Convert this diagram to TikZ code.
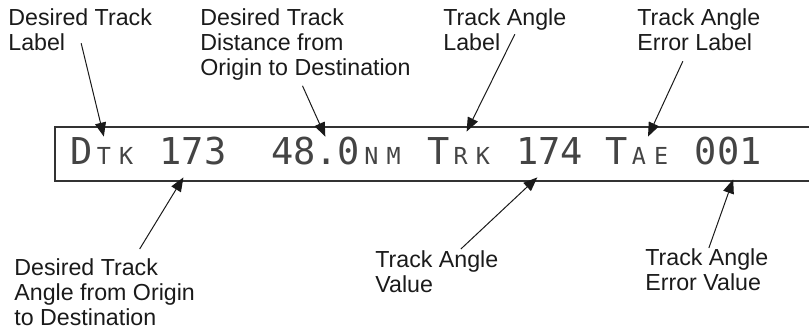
\documentclass[tikz,border=0pt]{standalone}
\usepackage{fontspec}
\setmainfont{Liberation Sans}
\newfontfamily\dotfont{DejaVu Sans Mono}
\usetikzlibrary{arrows.meta,positioning}
\definecolor{frameline}{HTML}{333333}
\definecolor{dotink}{HTML}{444444}
\definecolor{callout}{HTML}{1A1A1A}
% small letter kept in one character cell of the readout
\newcommand\lowch[1]{\hbox to \fontcharwd\font`0{\hss\fontsize{11.7}{12}\selectfont#1\hss}}

\begin{document}
\begin{tikzpicture}[x=.5pt,y=-.5pt,
caption/.style={align=left,inner sep=0pt,anchor=north west,text=callout,font=\fontsize{11.6}{12.5}\selectfont},
field/.style={inner sep=0pt,anchor=base west,text height=14pt,text depth=6pt,text=dotink,font=\dotfont\fontsize{18.5}{20}\selectfont},
window/.style={draw=frameline,line width=.75pt},
pointer/.style={-{Triangle[length=7pt,width=5.5pt]},line width=.5pt,draw=callout}]
\useasboundingbox (0,0) rectangle (809,331);
% display window, open at the right
\draw[window] (809,127) -| (55,181) -- (809,181);
% readout
\node[field] (dtk) at (70,165) {D\lowch{T}\lowch{K}};
\node[field] (dtkval) at (159.2,165) {173};
\node[field] (dist) at (270.7,165) {48.0\lowch{N}\lowch{M}};
\node[field] (trk) at (426.8,165) {T\lowch{R}\lowch{K}};
\node[field] (trkval) at (516,165) {174};
\node[field] (tae) at (605.2,165) {T\lowch{A}\lowch{E}};
\node[field] (taeval) at (694.4,165) {001};
% callouts above
\node[caption] (dtklbl) at (8,8.4) {Desired Track\\Label};
\node[caption] (distlbl) at (200,8.4) {Desired Track\\Distance from\\Origin to Destination};
\node[caption] (trklbl) at (443,8.4) {Track Angle\\Label};
\node[caption] (taelbl) at (637,8.4) {Track Angle\\Error Label};
% callouts below
\node[caption] (dtkvallbl) at (14,258) {Desired Track\\Angle from Origin\\to Destination};
\node[caption] (trkvallbl) at (375,250) {Track Angle\\Value};
\node[caption] (taevallbl) at (645,248) {Track Angle\\Error Value};
\draw[pointer] ([shift={(1,-8)}]dtklbl.south) -- (dtk.north);
\draw[pointer] ([shift={(-3,5)}]distlbl.south) -- ([shift={(-12.6,0)}]dist.north);
\draw[pointer] ([shift={(10,-17)}]trklbl.south) -- ([shift={(6,-5)}]trk.north);
\draw[pointer] ([shift={(-16,10)}]taelbl.south) -- ([shift={(9,0)}]tae.north);
\draw[pointer] ([shift={(35,-9)}]dtkvallbl.north) -- ([shift={(-9.6,0)}]dtkval.south);
\draw[pointer] ([shift={(24,-1)}]trkvallbl.north) -- ([shift={(-12.5,0)}]trkval.south);
\draw[pointer] ([shift={(2,0)}]taevallbl.north) -- ([shift={(5,2)}]taeval.south);
\end{tikzpicture}
\end{document}
